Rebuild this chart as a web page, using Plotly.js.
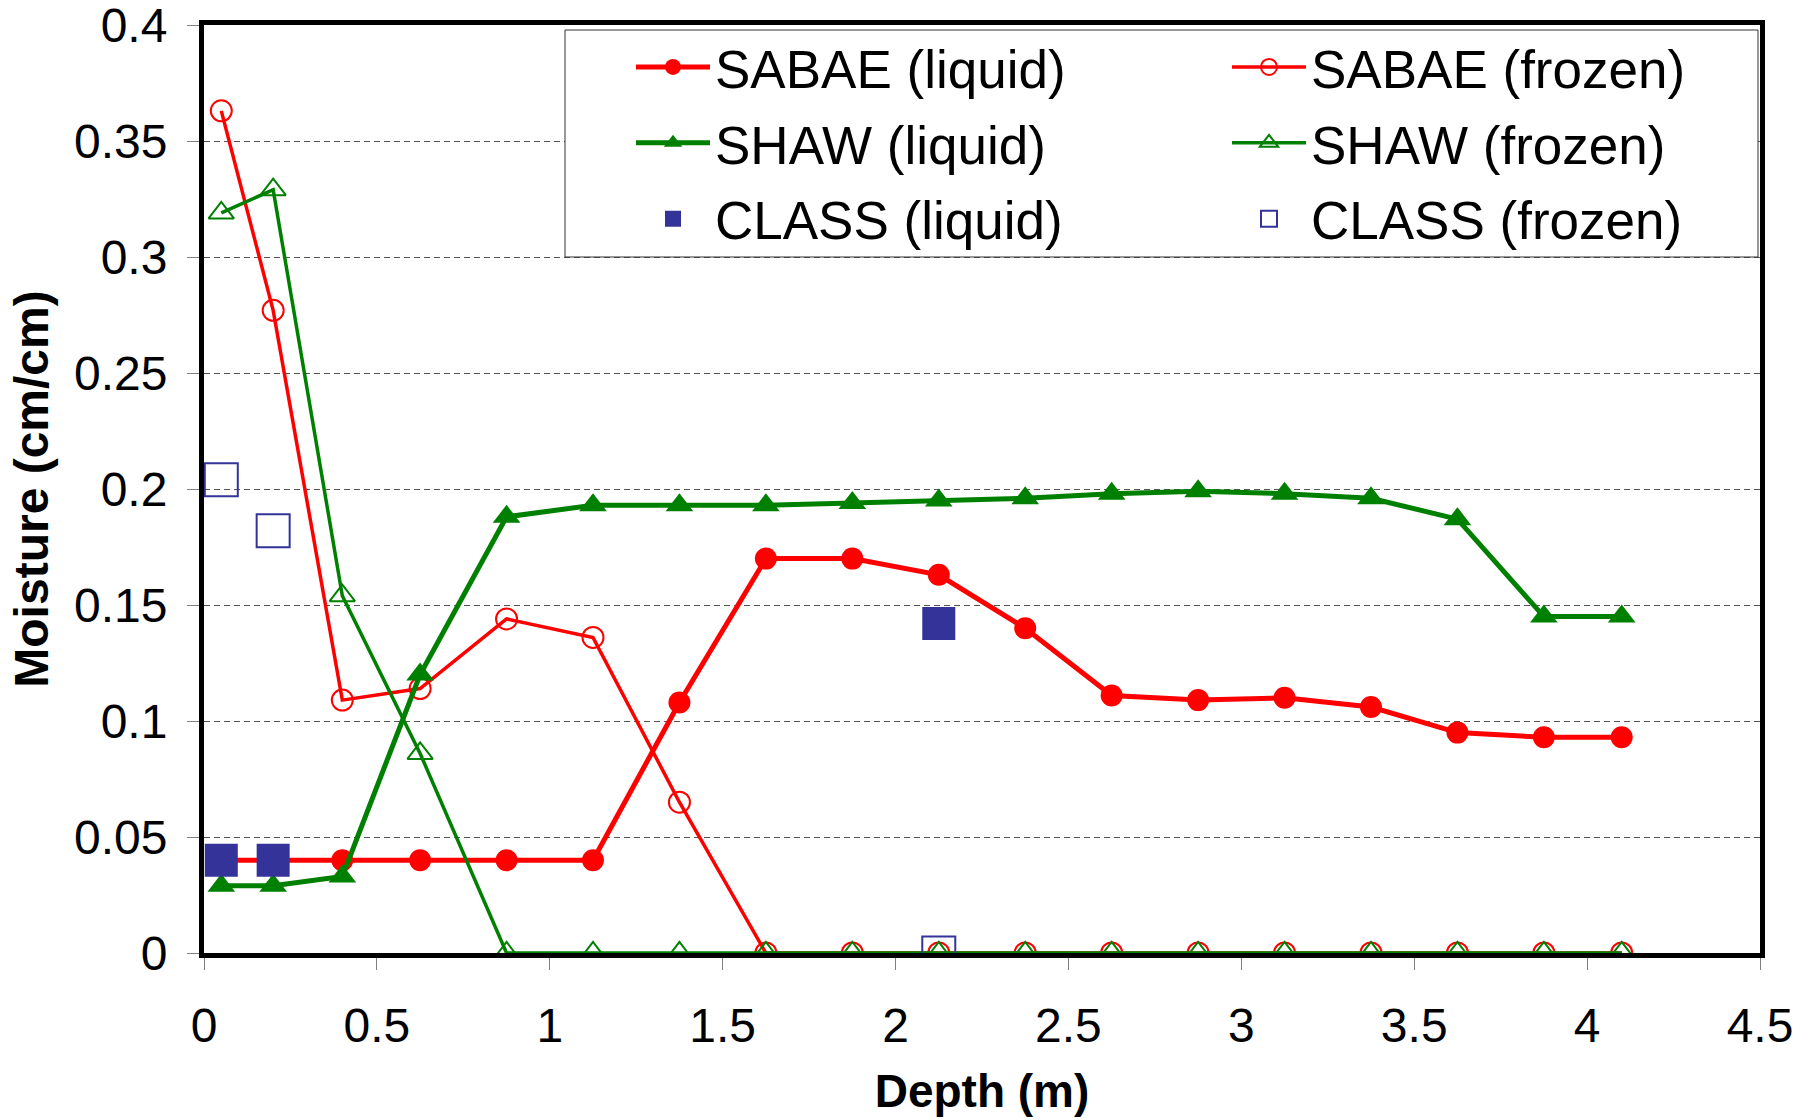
<!DOCTYPE html>
<html>
<head>
<meta charset="utf-8">
<script src="https://cdn.plot.ly/plotly-3.0.1.min.js"></script>
<style>html,body{margin:0;padding:0;background:#fff;}#chart{width:1816px;height:1120px;}</style>
</head>
<body>
<div id="chart"></div>
<script>
const depth = [0.05, 0.2, 0.4, 0.625, 0.875, 1.125, 1.375, 1.625, 1.875, 2.125, 2.375, 2.625, 2.875, 3.125, 3.375, 3.625, 3.875, 4.1];
const sabaeLiquid = [0.04, 0.04, 0.04, 0.04, 0.04, 0.04, 0.108, 0.17, 0.17, 0.163, 0.14, 0.111, 0.109, 0.11, 0.106, 0.095, 0.093, 0.093];
const sabaeFrozen = [0.363, 0.277, 0.109, 0.114, 0.144, 0.136, 0.065, 0, 0, 0, 0, 0, 0, 0, 0, 0, 0, 0];
const shawLiquid = [0.029, 0.029, 0.033, 0.12, 0.188, 0.193, 0.193, 0.193, 0.194, 0.195, 0.196, 0.198, 0.199, 0.198, 0.196, 0.187, 0.145, 0.145];
const shawFrozen = [0.319, 0.329, 0.154, 0.086, 0, 0, 0, 0, 0, 0, 0, 0, 0, 0, 0, 0, 0, 0];
const classDepth = [0.05, 0.2, 2.125];
const classLiquid = [0.04, 0.04, 0.142];
const classFrozen = [0.204, 0.182, 0];
const xTicks = [0, 0.5, 1, 1.5, 2, 2.5, 3, 3.5, 4, 4.5];
const xTickText = ['0', '0.5', '1', '1.5', '2', '2.5', '3', '3.5', '4', '4.5'];
const yTicks = [0, 0.05, 0.1, 0.15, 0.2, 0.25, 0.3, 0.35, 0.4];
const yTickText = ['0', '0.05', '0.1', '0.15', '0.2', '0.25', '0.3', '0.35', '0.4'];

const RED = '#FF0000', GREEN = '#008000', NAVY = '#333399';
const FONT = 'Liberation Sans, Arial, Helvetica, sans-serif';

const traces = [
  {x: depth, y: sabaeLiquid, name: 'SABAE (liquid)', mode: 'lines+markers', legend: 'legend', legendgroup: 'a',
   line: {color: RED, width: 5}, marker: {symbol: 'circle', size: 22, color: RED}},
  {x: depth, y: sabaeFrozen, name: 'SABAE (frozen)', mode: 'lines+markers', legend: 'legend2', legendgroup: 'b',
   line: {color: RED, width: 3.5}, marker: {symbol: 'circle-open', size: 21, color: RED, line: {width: 2, color: RED}}},
  {x: depth, y: shawLiquid, name: 'SHAW (liquid)', mode: 'lines+markers', legend: 'legend', legendgroup: 'c',
   line: {color: GREEN, width: 5}, marker: {symbol: 'triangle-up', size: 24, color: GREEN}},
  {x: depth, y: shawFrozen, name: 'SHAW (frozen)', mode: 'lines+markers', legend: 'legend2', legendgroup: 'd',
   line: {color: GREEN, width: 3.5}, marker: {symbol: 'triangle-up-open', size: 22, color: GREEN, line: {width: 2, color: GREEN}}},
  {x: classDepth, y: classLiquid, name: 'CLASS (liquid)', mode: 'markers', legend: 'legend', legendgroup: 'e',
   marker: {symbol: 'square', size: 33, color: NAVY}},
  {x: classDepth, y: classFrozen, name: 'CLASS (frozen)', mode: 'markers', legend: 'legend2', legendgroup: 'f',
   marker: {symbol: 'square-open', size: 33, color: NAVY, line: {width: 2, color: NAVY}}}
];

const W = 1816, H = 1120;
const mL = 204, mR = 56, mT = 25, mB = 167;
const pw = W - mL - mR, ph = H - mT - mB;
const px = v => (v - mL) / pw;
const py = v => (H - mB - v) / ph;

const legendCommon = {
  orientation: 'v', xanchor: 'left', yanchor: 'top',
  bgcolor: 'rgba(0,0,0,0)', borderwidth: 0,
  font: {size: 53, family: FONT, color: '#000'},
  itemwidth: 74, tracegroupgap: 4, traceorder: 'grouped'
};

const layout = {
  width: W, height: H,
  margin: {l: mL, r: mR, t: mT, b: mB},
  paper_bgcolor: '#fff', plot_bgcolor: '#fff',
  font: {family: FONT, color: '#000', size: 48},
  showlegend: true,
  xaxis: {
    range: [0, 4.5], tickvals: xTicks, ticktext: xTickText,
    showgrid: false, zeroline: false,
    showline: true, mirror: true, linecolor: '#000', linewidth: 5,
    ticks: 'outside', ticklen: 12, tickcolor: '#808080', tickwidth: 1,
    ticklabelstandoff: 14, ticklabeloverflow: 'allow',
    tickfont: {size: 48, family: FONT},
    title: {text: 'Depth (m)', font: {size: 46, family: FONT, weight: 'bold'}, standoff: 26}
  },
  yaxis: {
    range: [0, 0.4], tickvals: yTicks, ticktext: yTickText,
    showgrid: true, gridcolor: '#555', gridwidth: 1, griddash: '6px,4px',
    zeroline: false,
    showline: true, mirror: true, linecolor: '#000', linewidth: 5,
    ticks: 'outside', ticklen: 12, tickcolor: '#808080', tickwidth: 1,
    ticklabelstandoff: 10, ticklabeloverflow: 'allow',
    tickfont: {size: 48, family: FONT},
    title: {text: 'Moisture (cm/cm)', font: {size: 48, family: FONT, weight: 'bold'}, standoff: 12}
  },
  legend: Object.assign({}, legendCommon, {x: px(631), y: py(26)}),
  legend2: Object.assign({}, legendCommon, {x: px(1227), y: py(26)}),
  shapes: [{
    type: 'rect', xref: 'paper', yref: 'paper', layer: 'above',
    x0: px(565), x1: px(1758), y0: py(257), y1: py(30),
    fillcolor: '#fff', line: {color: '#333', width: 1}
  }]
};

Plotly.newPlot('chart', traces, layout, {displayModeBar: false, staticPlot: true});
</script>
</body>
</html>
